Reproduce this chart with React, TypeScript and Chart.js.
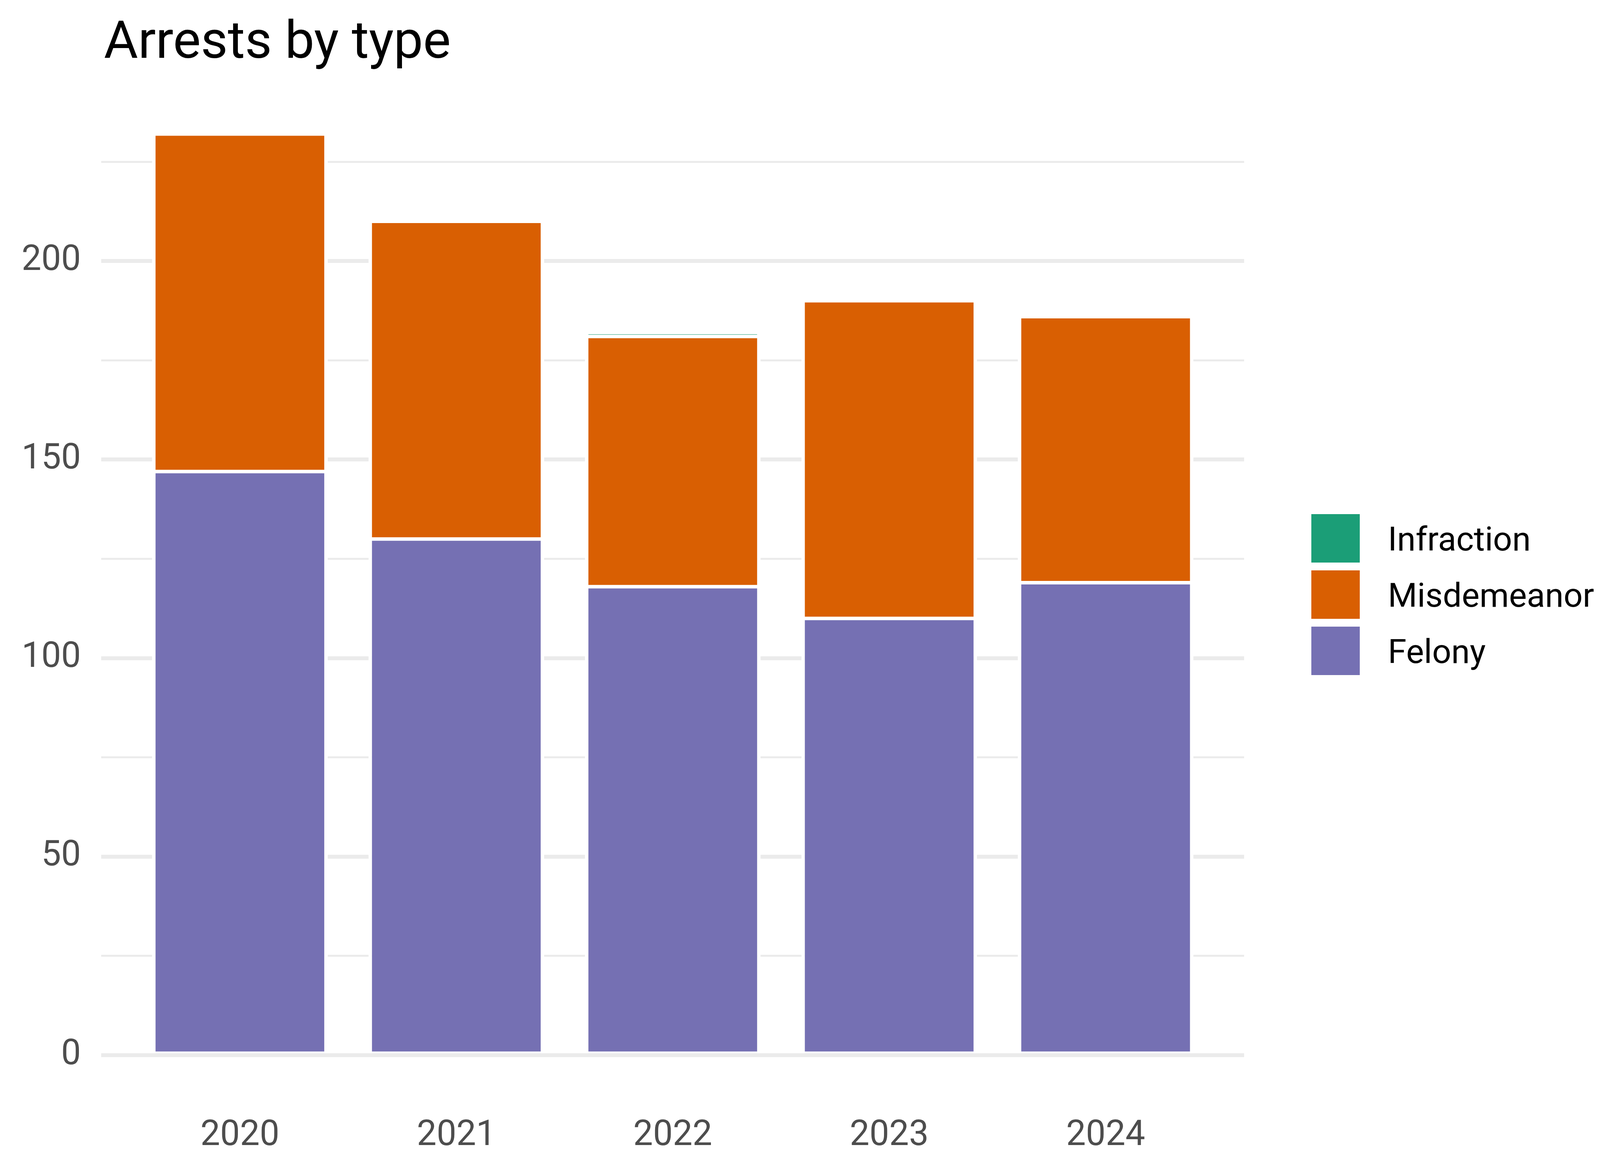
import React, { useEffect, useRef } from 'react';
import { Chart, registerables } from 'chart.js';

Chart.register(...registerables);

const title = 'Arrests by type';
const years = ['2020', '2021', '2022', '2023', '2024'];
const felony = [147, 130, 118, 110, 119];
const misdemeanor = [85, 80, 63, 80, 67];
const infraction = [0, 0, 1, 0, 0];
const seriesNames = ['Felony', 'Misdemeanor', 'Infraction'];
const seriesColors = ['#7570b3', '#d95f02', '#1b9e77'];
const yTicks = [0, 25, 50, 75, 100, 125, 150, 175, 200, 225];
const yMajorStep = 50;

const FONT = 'Roboto, "Noto Sans", sans-serif';

const decorPlugin = {
  id: 'decor',
  afterDraw(chart: any) {
    const ctx = chart.ctx;
    ctx.save();
    // title
    ctx.fillStyle = '#000000';
    ctx.font = `400 134px ${FONT}`;
    ctx.textAlign = 'left';
    ctx.textBaseline = 'alphabetic';
    ctx.fillText(title, 266, 148);
    // legend (reverse order: top of stack first)
    const items = seriesNames.map((n, i) => ({ n, c: seriesColors[i] })).reverse();
    const keyX = 3357;
    const keyY0 = 1316;
    const key = 124;
    const pitch = 144;
    ctx.font = `400 86px ${FONT}`;
    items.forEach((it, i) => {
      const y = keyY0 + i * pitch;
      ctx.fillStyle = it.c;
      ctx.fillRect(keyX, y, key, key);
      ctx.fillStyle = '#000000';
      ctx.fillText(it.n, 3553, y + key / 2 + 30.5);
    });
    ctx.restore();
  },
};

export default function App() {
  const ref = useRef<HTMLCanvasElement | null>(null);
  useEffect(() => {
    document.body.style.margin = '0';
    const canvas = ref.current;
    if (!canvas) return;
    const seriesData = [felony, misdemeanor, infraction];
    const chart = new Chart(canvas, {
      type: 'bar',
      data: {
        datasets: seriesNames.map((name, si) => ({
          label: name,
          data: seriesData[si].map((v, i) => ({ x: i + 1, y: v })),
          backgroundColor: seriesColors[si],
          borderColor: '#ffffff',
          borderWidth: { top: 4.5, bottom: 4.5, left: 9, right: 9 },
          borderSkipped: false,
          barPercentage: 1,
          categoryPercentage: 0.812,
        })),
      },
      options: {
        animation: false,
        responsive: false,
        devicePixelRatio: 1,
        layout: { padding: { top: 225, right: 1015, left: 0, bottom: 0 } },
        plugins: {
          legend: { display: false },
          tooltip: { enabled: false },
          title: { display: false },
        },
        scales: {
          x: {
            type: 'linear',
            stacked: true,
            offset: false,
            min: 0.359,
            max: 5.64,
            grid: { display: false, offset: false },
            border: { display: false },
            afterBuildTicks: (s: any) => {
              s.ticks = years.map((_, i) => ({ value: i + 1 }));
            },
            afterFit: (s: any) => {
              s.height = 181;
            },
            ticks: {
              autoSkip: false,
              maxRotation: 0,
              padding: 27,
              color: '#4d4d4d',
              font: { family: FONT, size: 90 },
              callback: (v: any) => years[Math.round(Number(v)) - 1] ?? '',
            },
          },
          y: {
            type: 'linear',
            stacked: true,
            min: -11.6,
            max: 243.6,
            border: { display: false },
            grid: {
              color: '#ebebeb',
              drawTicks: false,
              tickLength: 0,
              lineWidth: (c: any) => (c.tick && c.tick.value % yMajorStep === 0 ? 10 : 5),
            },
            afterBuildTicks: (s: any) => {
              s.ticks = yTicks.map((v) => ({ value: v }));
            },
            afterFit: (s: any) => {
              s.width = 259;
            },
            ticks: {
              padding: 52,
              color: '#4d4d4d',
              font: { family: FONT, size: 90 },
              callback: (v: any) => (Number(v) % yMajorStep === 0 ? String(v) : ''),
            },
          },
        },
      },
      plugins: [decorPlugin],
    } as any);
    return () => chart.destroy();
  }, []);
  return (
    <div style={{ position: 'absolute', left: 0, top: 0, width: 4200, height: 3000, background: '#ffffff' }}>
      <canvas ref={ref} width={4200} height={3000} style={{ width: 4200, height: 3000, display: 'block' }} />
    </div>
  );
}
